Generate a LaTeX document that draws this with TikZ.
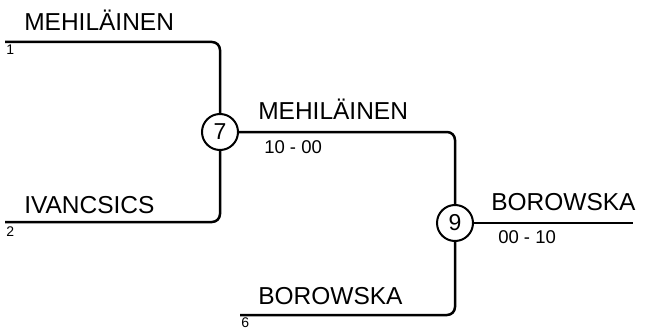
\documentclass[tikz,border=0pt]{standalone}
\usepackage{fontspec}
\setmainfont{Liberation Sans}
\usetikzlibrary{positioning}
\begin{document}
\begin{tikzpicture}[x=1pt,y=-1pt,line width=2.5pt,
            name node/.style={anchor=base west,inner sep=0pt,font=\fontsize{24.5}{28}\selectfont},
            seed node/.style={anchor=base west,inner sep=0pt,font=\fontsize{14}{16}\selectfont},
            score node/.style={anchor=base west,inner sep=0pt,font=\fontsize{18.5}{20}\selectfont},
            match node/.style={circle,draw,line width=2pt,minimum size=36pt,inner sep=0pt,font=\fontsize{23}{26}\selectfont}]

        \useasboundingbox (0,0) rectangle (651,329);

        % Define matches
        \node[match node] (m7) at (220,132) {7};
        \node[match node] (m9) at (455,223) {9};
        \coordinate (s1) at (5,42);
        \coordinate (s2) at (5,222);
        \coordinate (s6) at (240,315);
        \coordinate (win) at (633,223);

        % Names, seeds and scores
        \node[name node] (n1) at (23,31) {MEHILÄINEN};
        \node[seed node] (q1) at (5,55) {1};
        \node[name node] (n2) at (23,213) {IVANCSICS};
        \node[seed node] (q2) at (5,236) {2};
        \node[name node] (n7) at (257,120) {MEHILÄINEN};
        \node[score node] (r7) at (263,153) {10 - 00};
        \node[name node] (n6) at (257,304) {BOROWSKA};
        \node[seed node] (q6) at (240,327) {6};
        \node[name node] (n9) at (490,210) {BOROWSKA};
        \node[score node] (r9) at (497,243) {00 - 10};

        % Draw bracket lines
        \draw[rounded corners=8pt] (s1) -| (m7);
        \draw[rounded corners=8pt] (s2) -| (m7);
        \draw[rounded corners=8pt] (m7) -| (m9);
        \draw[rounded corners=8pt] (s6) -| (m9);
        \draw (m9) -- (win);

\end{tikzpicture}
\end{document}
